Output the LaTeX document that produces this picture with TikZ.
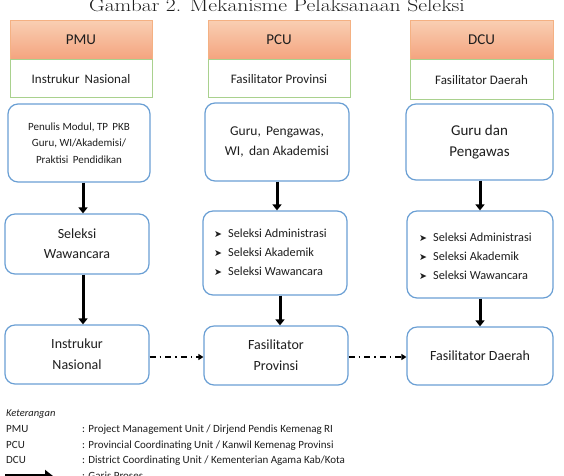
\documentclass[tikz,border=0pt]{standalone}
\usepackage{fontspec}
\setmainfont{Carlito}
\newfontfamily\symfont{DejaVu Sans}
\usetikzlibrary{arrows.meta,calc}
\definecolor{bdblue}{HTML}{6A9FD4}
\definecolor{bdgreen}{HTML}{A9D18E}
\definecolor{ortop}{HTML}{F9CFB3}
\definecolor{orbot}{HTML}{F4A47F}
\definecolor{orline}{HTML}{F4B183}
\definecolor{txt}{HTML}{1E1E1E}
\tikzset{
  headbox/.style={draw=orline, line width=0.8pt, top color=ortop, bottom color=orbot, text=txt, font=\fontsize{15}{18}\selectfont, inner sep=0pt},
  greenbox/.style={draw=bdgreen, line width=0.9pt, fill=white, text=txt, font=\fontsize{13}{16}\selectfont, inner sep=0pt},
  bluebox/.style={draw=bdblue, line width=1.2pt, rounded corners=10pt, fill=white, text=txt, align=center, inner sep=0pt},
  procarrow/.style={line width=3pt, -{Triangle[length=6pt,width=9pt]}},
  dasharrow/.style={line width=1.6pt, dash pattern=on 6pt off 4pt on 1.6pt off 4pt, -{Triangle[length=5pt,width=6pt]}},
  legtext/.style={anchor=base west, inner sep=0pt, text=txt, font=\fontsize{11}{12}\selectfont},
  bul/.style={anchor=base west, inner sep=0pt, text=txt, font=\fontsize{12.3}{18.7}\selectfont, align=left}
}
\newcommand{\arr}{{\symfont\fontsize{9.5}{10}\selectfont ➤}\hspace{6pt}}
\begin{document}
\begin{tikzpicture}[x=1pt,y=-1pt]
\useasboundingbox (0,0) rectangle (564,475);
\clip (0,0) rectangle (564,475);
\fill[white] (0,0) rectangle (564,475);
% title
\node[anchor=base, inner sep=0pt, font=\rmfamily\fontsize{18}{20}\selectfont, xscale=1.2, text=txt] (title) at (277,11) {\fontspec{Latin Modern Roman}Gambar 2. Mekanisme Pelaksanaan Seleksi};
% headers
\node[headbox, minimum width=142pt, minimum height=39pt] (h1) at (81,39.5) {PMU};
\node[headbox, minimum width=142pt, minimum height=39pt] (h2) at (279,39.5) {PCU};
\node[headbox, minimum width=143pt, minimum height=39pt] (h3) at (481.5,39.5) {DCU};
\node[greenbox, minimum width=142pt, minimum height=38pt, anchor=north] (g1) at (h1.south) {Instrukur\, Nasional};
\node[greenbox, minimum width=142pt, minimum height=38pt, anchor=north] (g2) at (h2.south) {Fasilitator Provinsi};
\node[greenbox, minimum width=143pt, minimum height=40pt, anchor=north] (g3) at (h3.south) {Fasilitator Daerah};
% row 2
\node[bluebox, minimum width=142pt, minimum height=78pt, font=\fontsize{11}{16.5}\selectfont] (a1) at (79,143) {Penulis Modul, TP\, PKB\\Guru, WI/Akademisi/\\Praktisi\, Pendidikan};
\node[bluebox, minimum width=144pt, minimum height=78pt, font=\fontsize{13.5}{20}\selectfont] (a2) at (277,142) {Guru,\, Pengawas,\\WI,\, dan Akademisi};
\node[bluebox, minimum width=147pt, minimum height=76pt, font=\fontsize{15}{21}\selectfont] (a3) at (479.5,142) {Guru dan\\Pengawas};
% row 3
\node[bluebox, minimum width=144pt, minimum height=60pt, font=\fontsize{14}{20}\selectfont] (b1) at (77,244) {Seleksi\\Wawancara};
\node[bluebox, minimum width=144pt, minimum height=84pt] (b2) at (275,253) {};
\node[bluebox, minimum width=146pt, minimum height=87pt] (b3) at (480,254.5) {};
\node[bul] (l2) at (214,275) {\arr Seleksi Administrasi\\\arr Seleksi Akademik\\\arr Seleksi Wawancara};
\node[bul] (l3) at (419,279) {\arr Seleksi Administrasi\\\arr Seleksi Akademik\\\arr Seleksi Wawancara};
% row 4
\node[bluebox, minimum width=144pt, minimum height=59pt, font=\fontsize{14}{21}\selectfont] (c1) at (77,354.5) {Instrukur\\Nasional};
\node[bluebox, minimum width=144pt, minimum height=59pt, font=\fontsize{14}{21}\selectfont] (c2) at (276,355.5) {Fasilitator\\Provinsi};
\node[bluebox, minimum width=146pt, minimum height=58pt, font=\fontsize{14}{21}\selectfont] (c3) at (480,356) {Fasilitator Daerah};
% process arrows
\draw[procarrow] (a1.south -| 83,0) -- (b1.north -| 83,0);
\draw[procarrow] (b1.south -| 83,0) -- (c1.north -| 83,0);
\draw[procarrow] (a2.south -| 277,0) -- (b2.north -| 277,0);
\draw[procarrow] (b2.south -| 280,0) -- (c2.north -| 280,0);
\draw[procarrow] (a3.south -| 480,0) -- (b3.north -| 480,0);
\draw[procarrow] (b3.south -| 480,0) -- (c3.north -| 480,0);
% dash-dot arrows
\draw[dasharrow] (c1.east |- 0,357) -- (c2.west |- 0,357);
\draw[dasharrow] (c2.east |- 0,357) -- (c3.west |- 0,357);
% legend
\node[legtext, font=\itshape\fontsize{10.5}{12}\selectfont] (k) at (6,416) {Keterangan};
\node[legtext] (k1) at (6,432) {PMU};
\node[legtext] (k2) at (6,448) {PCU};
\node[legtext] (k3) at (6,463) {DCU};
\node[legtext] (d1) at (82,432) {: Project Management Unit / Dirjend Pendis Kemenag RI};
\node[legtext] (d2) at (82,448) {: Provincial Coordinating Unit / Kanwil Kemenag Provinsi};
\node[legtext] (d3) at (82,463) {: District Coordinating Unit / Kementerian Agama Kab/Kota};
\coordinate (la) at (5,476);
\coordinate (lb) at (53,476);
\draw[line width=4pt, -{Triangle[length=8pt,width=12pt]}] (la) -- (lb);
\node[legtext] (d4) at (82,479) {: Garis Proses};
\end{tikzpicture}
\end{document}
